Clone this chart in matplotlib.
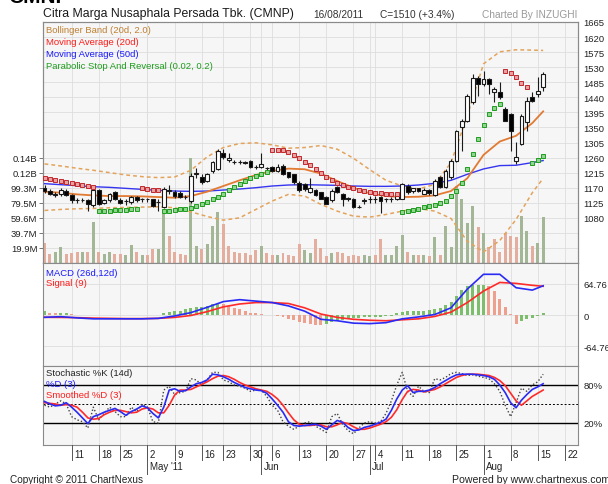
import numpy as np
import matplotlib
matplotlib.use("Agg")
import matplotlib.pyplot as plt
from matplotlib.lines import Line2D
from matplotlib.transforms import blended_transform_factory

plt.rcParams['font.family'] = ['Liberation Sans', 'DejaVu Sans']

# ------------------------------------------------------------------ data
title = "Citra Marga Nusaphala Persada Tbk. (CMNP)"
date_txt = "16/08/2011"
close_txt = "C=1510 (+3.4%)"
credit_txt = "Charted By INZUGHI"

opens = [1170,1160,1148,1150,1160,1147,1132,1133,1134,1117,
         1162,1124,1132,1157,1134,1130,1126,1142,1135,1135,
         1135,1126,1112,1160,1158,1155,1142,1130,1210,1201,
         1191,1221,1226,1275,1252,1248,1246,1247,1251,1232,
         1231,1229,1232,1221,1236,1216,1210,1185,1180,1158,
         1162,1156,1142,1132,1171,1152,1137,1137,1112,1130,
         1135,1137,1142,1135,1135,1135,1137,1175,1160,1168,
         1152,1162,1147,1201,1172,1201,1251,1350,1370,1425,
         1499,1479,1494,1455,1455,1405,1390,1251,1301,1365,
         1440,1450,1470]
highs = [1178,1165,1158,1168,1165,1150,1138,1138,1136,1168,
         1165,1136,1155,1160,1138,1137,1146,1146,1140,1140,
         1137,1135,1172,1178,1162,1160,1148,1215,1228,1212,
         1215,1250,1286,1285,1275,1252,1252,1250,1253,1238,
         1275,1232,1236,1240,1240,1218,1212,1190,1185,1200,
         1166,1158,1145,1165,1174,1155,1142,1140,1117,1140,
         1145,1145,1146,1140,1142,1150,1185,1180,1170,1170,
         1168,1165,1195,1205,1225,1255,1342,1375,1450,1510,
         1505,1520,1498,1470,1485,1410,1392,1305,1390,1440,
         1455,1500,1515]
lows = [1155,1148,1142,1145,1145,1125,1125,1128,1100,1112,
        1118,1120,1128,1132,1120,1118,1122,1128,1128,1126,
        1112,1100,1108,1150,1140,1138,1136,1125,1200,1182,
        1186,1215,1222,1255,1248,1242,1240,1240,1228,1225,
        1228,1220,1218,1218,1208,1198,1180,1158,1160,1155,
        1145,1135,1120,1128,1155,1115,1130,1110,1108,1122,
        1125,1125,1095,1128,1128,1132,1135,1150,1155,1158,
        1150,1148,1145,1170,1168,1195,1248,1281,1365,1420,
        1445,1475,1450,1425,1435,1368,1281,1241,1298,1340,
        1425,1440,1460]
closes = [1160,1150,1152,1162,1147,1132,1132,1133,1122,1162,
          1122,1134,1152,1135,1124,1130,1142,1132,1135,1135,
          1114,1127,1166,1162,1145,1142,1142,1205,1215,1186,
          1211,1246,1281,1262,1260,1246,1246,1245,1231,1231,
          1241,1228,1221,1232,1211,1201,1186,1162,1165,1170,
          1148,1137,1122,1161,1156,1137,1137,1112,1112,1132,
          1137,1135,1130,1135,1137,1145,1181,1158,1168,1160,
          1162,1153,1191,1172,1221,1251,1340,1370,1445,1499,
          1479,1494,1479,1464,1440,1370,1340,1261,1385,1430,
          1430,1460,1510]
volume_m = [27,12,14,20.6,12,13,14,14,15,54,
            14,12,14,12,12,10,24,14,10,10,
            18,18,64,36,14,12,10,139,23,18,
            25,49,67,51,23,15,13,13,11,17,
            23,13,11,11,13,11,9,25,17,13,
            31,20,9,13,15,13,9,11,9,11,
            9,11,31,11,11,23,37,15,11,11,
            10,9,34,11,49,21,102,84,53,75,
            47,40,21,32,14,40,36,34,62,42,
            23,27,61]
sar = [1198,1196,1192,1189,1186,1183,1180,1177,1174,1171,
       1100,1100,1101,1102,1103,1104,1105,1106,
       1168,1166,1164,1162,
       1100,1101,1103,1105,1107,1110,1115,1122,1128,1135,1142,1152,1162,1172,
       1181,1190,1198,1205,1211,1216,
       1284,1283,1282,1276,1268,1258,1248,1238,1226,1214,1202,1192,1184,1177,
       1172,1168,1164,1160,1157,1155,1153,1152,1151,1150,
       1098,1101,1104,1107,1111,1115,1119,1125,1131,1146,1161,1185,1225,1270,
       1316,1356,1389,1409,1420,
       1519,1514,1502,1484,1472,
       1243,1253,1266]

# smooth indicator lines, read at every third trading day
line_idx = [0,3,6,9,12,15,18,21,24,27,30,33,36,39,42,45,48,51,54,57,60,63,
            66,69,72,75,78,81,84,87,90,92]
bb_upper = [1241,1235,1228,1222,1215,1208,1203,1200,1202,1222,1262,1290,1302,
            1304,1298,1288,1290,1296,1285,1258,1224,1192,1175,1166,1180,1245,
            1385,1540,1576,1582,1581,1580]
bb_lower = [1102,1105,1107,1108,1110,1111,1112,1113,1110,1098,1084,1073,1080,
            1105,1130,1150,1145,1120,1100,1085,1082,1090,1100,1108,1100,1078,
            1010,978,1012,1075,1155,1198]
ma20 = [1158,1155,1150,1147,1145,1145,1144,1142,1140,1145,1158,1175,1192,1208,
        1220,1227,1225,1212,1190,1170,1153,1145,1142,1143,1147,1160,1198,1268,
        1308,1325,1363,1398]
ma50 = [1182,1179,1176,1173,1171,1168,1165,1162,1160,1159,1160,1163,1166,1170,
        1175,1178,1179,1178,1177,1175,1174,1174,1175,1178,1183,1192,1210,1226,
        1236,1237,1245,1251]
macd_line = [-4.8,-3.5,-6,-8,-8,-8,-8,-7,-2,5,16,28,32,29,26,19,8,-9,-12,-17,
             -18,-16,-8,-4,1,15,54,85,85,57,52,61]
signal_line = [-4.8,-5,-5.5,-6.5,-7,-7.5,-7.5,-7,-5,-1,7,17,23,26,26,24,15,2,
               -5,-9,-11,-12,-10,-8,-3,6,26,50,68,66,62,60]
macd_hist = [9,5,4,4,4,2,1,1,0.5,-1,
             -1,-1,0.5,0.5,-0.5,-0.5,1,1,1,0.5,
             0.5,1,5,7,8,8,12,14,16,17,
             19,22,24,23,19,14,12,8,5,4,
             2,1,0.5,-3,-5,-8,-11,-14,-16,-18,
             -20,-21,-19,-15,-12,-10,-8,-7,-6,-5,
             -5,-4,-4,-3,-2,4,6,8,9,9,
             9,11,12,14,20,27,40,52,60,62,
             62.5,63,61,51,33,16,2,-19,-12,-9,
             -6,-2,5]
stoch_k = [48,45,50,55,50,30,25,22,12,45,
           25,35,45,38,30,30,45,38,50,45,
           22,20,72,78,65,68,70,90,88,80,
           88,100,100,88,85,80,78,75,70,72,
           72,62,48,40,22,15,10,15,20,22,
           15,10,5,30,35,18,8,3,12,20,
           22,20,22,35,55,80,100,70,62,78,
           70,68,90,88,92,98,100,98,95,96,
           94,92,90,82,70,48,30,52,75,70,
           80,85,97]
stoch_d = [54,50,47,48,52,45,37,28,19,30,
           33,37,40,43,38,32,38,42,47,44,
           35,28,45,72,74,70,71,77,82,84,
           88,97,96,93,89,84,80,76,74,72,
           71,67,58,48,37,22,16,15,16,17,
           18,15,10,17,24,21,13,8,9,13,
           15,18,21,26,40,58,72,79,68,70,
           70,72,76,82,87,92,96,97,97,97,
           96,95,93,89,80,68,52,44,56,65,
           73,77,82]
stoch_sd = [52,51,50,48,49,48,45,37,28,26,
            27,33,37,40,40,38,36,37,42,44,
            42,36,36,48,64,72,72,73,77,81,
            85,90,94,95,93,89,84,80,77,74,
            72,70,65,58,48,36,25,18,16,16,
            17,17,14,14,17,21,19,14,10,10,
            12,15,18,22,29,41,57,70,73,72,
            69,71,73,77,82,87,92,95,97,97,
            97,96,95,92,87,79,67,55,48,55,
            62,67,72]

price_ticks = [1080,1125,1170,1215,1260,1305,1350,1395,1440,1485,1530,1575,1620,1665]
vol_tick_m = [19.86,39.72,59.58,79.44,99.3,119.16,139.02]
vol_tick_lbl = ["19.9M","39.7M","59.6M","79.5M","99.3M","0.12B","0.14B"]
macd_ticks = [-64.76, 0, 64.76]
macd_tick_lbl = ["-64.76", "0", "64.76"]
stoch_ticks = [20, 80]
stoch_tick_lbl = ["20%", "80%"]
week_idx = [5,10,14,19,24,29,33,38,42,47,52,57,61,66,71,76,81,86,91,96]
week_lbl = ["11","18","25","2","9","16","23","30","6","13","20","27","4","11",
            "18","25","1","8","15","22"]
month_idx = [19,40,60,81]
month_lbl = ["May '11","Jun","Jul","Aug"]

# ------------------------------------------------------------------ layout
W, H = 608, 485
fig = plt.figure(figsize=(W/100, H/100), dpi=100)
fig.patch.set_facecolor("white")

def rect(x0, y0, x1, y1):
    return [x0/W, 1-y1/H, (x1-x0)/W, (y1-y0)/H]

def fx(x):
    return x/W

def fy(y):
    return 1-y/H

PANEL = "#F6F6F6"
GRID = "#DDDDDD"
SPINE = "#8A8A8A"
XL = (-0.28, 98.43)
FS = 6.8

ax_vol = fig.add_axes(rect(43, 23, 578, 264))
ax_p = ax_vol.twinx()
ax_m = fig.add_axes(rect(43, 264, 578, 367))
ax_s = fig.add_axes(rect(43, 367, 578, 446))

n = len(closes)
x = np.arange(n)
o = np.array(opens, float); c = np.array(closes, float)
h = np.array(highs, float); l = np.array(lows, float)

for a in (ax_vol, ax_m, ax_s):
    a.set_facecolor(PANEL)
    a.set_xlim(*XL)
    a.set_xticks([])
    for sp in a.spines.values():
        sp.set_color(SPINE); sp.set_linewidth(0.8)
    for wi in list(week_idx) + list(month_idx):
        a.axvline(wi, color=GRID, lw=0.6, zorder=0.5)
ax_p.set_xlim(*XL)
for sp in ax_p.spines.values():
    sp.set_color(SPINE); sp.set_linewidth(0.8)

# ---- volume (left axis)
unit = 19.86e6
vol = np.array(volume_m) * 1e6
ax_vol.set_ylim(0, 16*unit)
for k in range(1, 16):
    ax_vol.axhline(k*unit, color=GRID, lw=0.6, zorder=0.5)
prev = np.concatenate([[c[0]+1], c[:-1]])
vcol = np.where(c > prev, "#A3B796", "#E4AE9F")
ax_vol.bar(x, vol, width=0.55, color=vcol, zorder=2)
ax_vol.set_yticks(np.array(vol_tick_m)*1e6)
ax_vol.set_yticklabels(vol_tick_lbl)
ax_vol.tick_params(axis="y", length=3, width=0.7, pad=1, labelsize=FS,
                   color="#777777", labelcolor="#222222")

# ---- price (right axis)
ax_p.set_ylim(945, 1665)
ax_p.set_yticks(price_ticks)
ax_p.set_yticklabels([str(t) for t in price_ticks])
ax_p.tick_params(axis="y", length=0, pad=4, labelsize=FS, labelcolor="#222222")
ax_p.set_xticks([])

ax_p.plot(line_idx, bb_upper, color="#E3A35A", lw=1.1, dashes=(2.5, 2), zorder=3)
ax_p.plot(line_idx, bb_lower, color="#E3A35A", lw=1.1, dashes=(2.5, 2), zorder=3)
ax_p.plot(line_idx, ma50, color="#3535F0", lw=1.0, zorder=3)
ax_p.plot(line_idx, ma20, color="#E27A32", lw=1.3, zorder=3)

ax_p.vlines(x, l, h, color="#1A1A1A", lw=0.8, zorder=4)
body_lo = np.minimum(o, c)
body_h = np.maximum(np.abs(c-o), 1.2)
fill = np.where(c > o, "white", "black")
ax_p.bar(x, body_h, bottom=body_lo, width=0.7, color=fill,
         edgecolor="#1A1A1A", linewidth=0.8, zorder=5)

sar_a = np.array(sar, float)
up = sar_a < c
ax_p.plot(x[up], sar_a[up], ls="none", marker="s", ms=2.5, mfc="#8FD48F",
          mec="#1E9E1E", mew=0.7, zorder=6)
ax_p.plot(x[~up], sar_a[~up], ls="none", marker="s", ms=2.5, mfc="#E8A0A0",
          mec="#C0282D", mew=0.7, zorder=6)

# ---- MACD
ax_m.set_ylim(-106.5, 108.6)
for t in macd_ticks:
    ax_m.axhline(t, color=GRID, lw=0.6, zorder=0.5)
hist = np.array(macd_hist, float)
hprev = np.concatenate([[hist[0]], hist[:-1]])
hcol = np.where(hist >= hprev, "#7DBE6C", "#EEA08E")
ax_m.bar(x, hist, width=0.55, color=hcol, zorder=2)
ax_m.plot(line_idx, signal_line, color="#FF2A2A", lw=1.2, zorder=3)
ax_m.plot(line_idx, macd_line, color="#2A2AF5", lw=1.2, zorder=4)
ax_m.yaxis.tick_right()
ax_m.set_yticks(macd_ticks)
ax_m.set_yticklabels(macd_tick_lbl)
ax_m.tick_params(axis="y", length=0, pad=4, labelsize=FS, labelcolor="#222222")

# ---- Stochastic
ax_s.set_ylim(-14.8, 110)
ax_s.axhline(80, color="black", lw=1.0, zorder=1)
ax_s.axhline(20, color="black", lw=1.0, zorder=1)
ax_s.axhline(50, color="black", lw=0.7, dashes=(2, 2), zorder=1)
ax_s.plot(x, stoch_k, color="#444444", lw=1.0, ls=(0, (1, 1.5)), zorder=2)
ax_s.plot(x, stoch_sd, color="#FF2A2A", lw=1.2, zorder=3)
ax_s.plot(x, stoch_d, color="#2A2AF5", lw=1.2, zorder=4)
ax_s.yaxis.tick_right()
ax_s.set_yticks(stoch_ticks)
ax_s.set_yticklabels(stoch_tick_lbl)
ax_s.tick_params(axis="y", length=0, pad=4, labelsize=FS, labelcolor="#222222")

# ---- date axis under the stochastic panel
tr = blended_transform_factory(ax_s.transData, fig.transFigure)
for wi, lb in zip(week_idx, week_lbl):
    fig.add_artist(Line2D([wi, wi], [fy(446), fy(461)], transform=tr,
                          color="#555555", lw=0.7))
    fig.text(wi + 0.45, fy(455), lb, transform=tr, fontsize=7, va="center",
             ha="left", color="#222222")
for mi, lb in zip(month_idx, month_lbl):
    fig.add_artist(Line2D([mi, mi], [fy(446), fy(475)], transform=tr,
                          color="#555555", lw=0.7))
    fig.text(mi + 0.45, fy(467.5), lb, transform=tr, fontsize=7, va="center",
             ha="left", color="#222222")

# ---- texts
fig.text(fx(8), fy(3), "CMNP", fontsize=15, fontweight="bold", va="baseline",
         ha="left", color="black")
fig.text(fx(43), fy(14.5), title, fontsize=8.8, va="center", ha="left",
         color="#1A1A1A")
fig.text(fx(313), fy(14.5), date_txt, fontsize=7.3, va="center", ha="left",
         color="#333333")
fig.text(fx(380), fy(14.5), close_txt, fontsize=7.3, va="center", ha="left",
         color="#333333")
fig.text(fx(577), fy(14.5), credit_txt, fontsize=7.3, va="center", ha="right",
         color="#9A9A9A")

legend_main = [("Bollinger Band (20d, 2.0)", "#BF8030"),
               ("Moving Average (20d)", "#FF1A1A"),
               ("Moving Average (50d)", "#1A1AFF"),
               ("Parabolic Stop And Reversal (0.02, 0.2)", "#1E9E1E")]
for k, (t, col) in enumerate(legend_main):
    fig.text(fx(46), fy(30.5 + 12*k), t, fontsize=6.8, color=col,
             va="center", ha="left")
fig.text(fx(46), fy(273.5), "MACD (26d,12d)", fontsize=6.8, color="#1A1AFF",
         va="center", ha="left")
fig.text(fx(46), fy(284), "Signal (9)", fontsize=6.8, color="#FF1A1A",
         va="center", ha="left")
fig.text(fx(46), fy(374), "Stochastic %K (14d)", fontsize=6.8, color="#222222",
         va="center", ha="left")
fig.text(fx(46), fy(385), "%D (3)", fontsize=6.8, color="#1A1AFF",
         va="center", ha="left")
fig.text(fx(46), fy(396), "Smoothed %D (3)", fontsize=6.8, color="#FF1A1A",
         va="center", ha="left")

fig.text(fx(10), fy(480.5), "Copyright \u00a9 2011 ChartNexus", fontsize=7.2,
         va="center", ha="left", color="#222222")
fig.text(fx(452), fy(480.5), "Powered by www.chartnexus.com", fontsize=7.6,
         va="center", ha="left", color="#222222")

fig.savefig("out.png", dpi=100)
